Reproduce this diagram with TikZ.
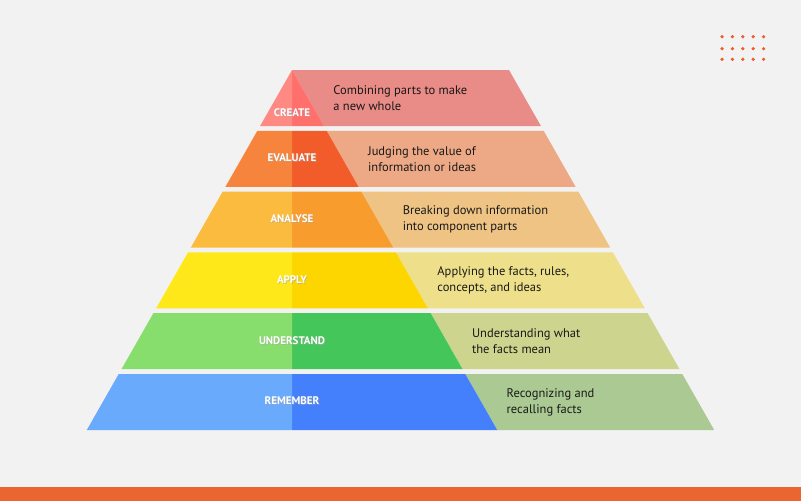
\documentclass[tikz,border=0pt]{standalone}
\usepackage{fontspec}
\setmainfont{PT Sans}
\definecolor{bg}{HTML}{F2F2F2}
\definecolor{org}{HTML}{EB6530}
\definecolor{aL}{HTML}{FF8A84}\definecolor{aD}{HTML}{FF6F6C}\definecolor{aR}{HTML}{E98B86}
\definecolor{bL}{HTML}{F7843C}\definecolor{bD}{HTML}{F25C2B}\definecolor{bR}{HTML}{EDA986}
\definecolor{cL}{HTML}{FBBB3E}\definecolor{cD}{HTML}{F89C2D}\definecolor{cR}{HTML}{EEC384}
\definecolor{dL}{HTML}{FFE81A}\definecolor{dD}{HTML}{FDD600}\definecolor{dR}{HTML}{EEE08A}
\definecolor{eL}{HTML}{88DE6C}\definecolor{eD}{HTML}{45C65A}\definecolor{eR}{HTML}{CDD48E}
\definecolor{fL}{HTML}{6AAAFC}\definecolor{fD}{HTML}{4480FC}\definecolor{fR}{HTML}{ABC993}
\begin{document}
\begin{tikzpicture}[x=1pt,y=-1pt,
  lbl/.style={text=white,font=\bfseries\fontsize{11}{13}\selectfont},
  desc/.style={text=black!90,anchor=west,align=left,font=\fontsize{12.5}{16}\selectfont}]
\fill[bg] (0,0) rectangle (801,501);
\fill[org] (0,487) rectangle (801,501);
\foreach \i in {0,...,4}{\foreach \j in {36.7,48.7,59.3}{\fill[org!90!red] (722+10.4*\i,\j) circle (1.8);}}
\def\layer#1#2#3#4#5#6#7{%
  \pgfmathsetmacro\t{70+60.8*#1}\pgfmathsetmacro\b{\t+56}%
  \pgfmathsetmacro\lt{292-0.57*(\t-70)}\pgfmathsetmacro\lb{292-0.57*(\b-70)}%
  \pgfmathsetmacro\dt{292+0.57*(\t-70)}\pgfmathsetmacro\db{292+0.57*(\b-70)}%
  \pgfmathsetmacro\rt{509+0.57*(\t-70)}\pgfmathsetmacro\rb{509+0.57*(\b-70)}%
  \fill[#4] (\dt,\t) -- (\rt,\t) -- (\rb,\b) -- (\db,\b) -- cycle;
  \fill[#3] (292,\t) -- (\dt,\t) -- (\db,\b) -- (292,\b) -- cycle;
  \fill[#2] (\lt,\t) -- (292,\t) -- (292,\b) -- (\lb,\b) -- cycle;
  \node[desc] (d#1) at (\db+6,\t+28) {#6};
  \node[lbl,text=black!35,opacity=.5] at (293,\t+#7+1) {#5};
  \node[lbl] (l#1) at (292,\t+#7) {#5};
}
\layer{0}{aL}{aD}{aR}{CREATE}{Combining parts to make\\a new whole}{43}
\layer{1}{bL}{bD}{bR}{EVALUATE}{Judging the value of\\information or ideas}{27}
\layer{2}{cL}{cD}{cR}{ANALYSE}{Breaking down information\\into component parts}{27}
\layer{3}{dL}{dD}{dR}{APPLY}{Applying the facts, rules,\\concepts, and ideas}{27}
\layer{4}{eL}{eD}{eR}{UNDERSTAND}{Understanding what\\the facts mean}{27}
\layer{5}{fL}{fD}{fR}{REMEMBER}{Recognizing and\\recalling facts}{27}
\end{tikzpicture}
\end{document}
